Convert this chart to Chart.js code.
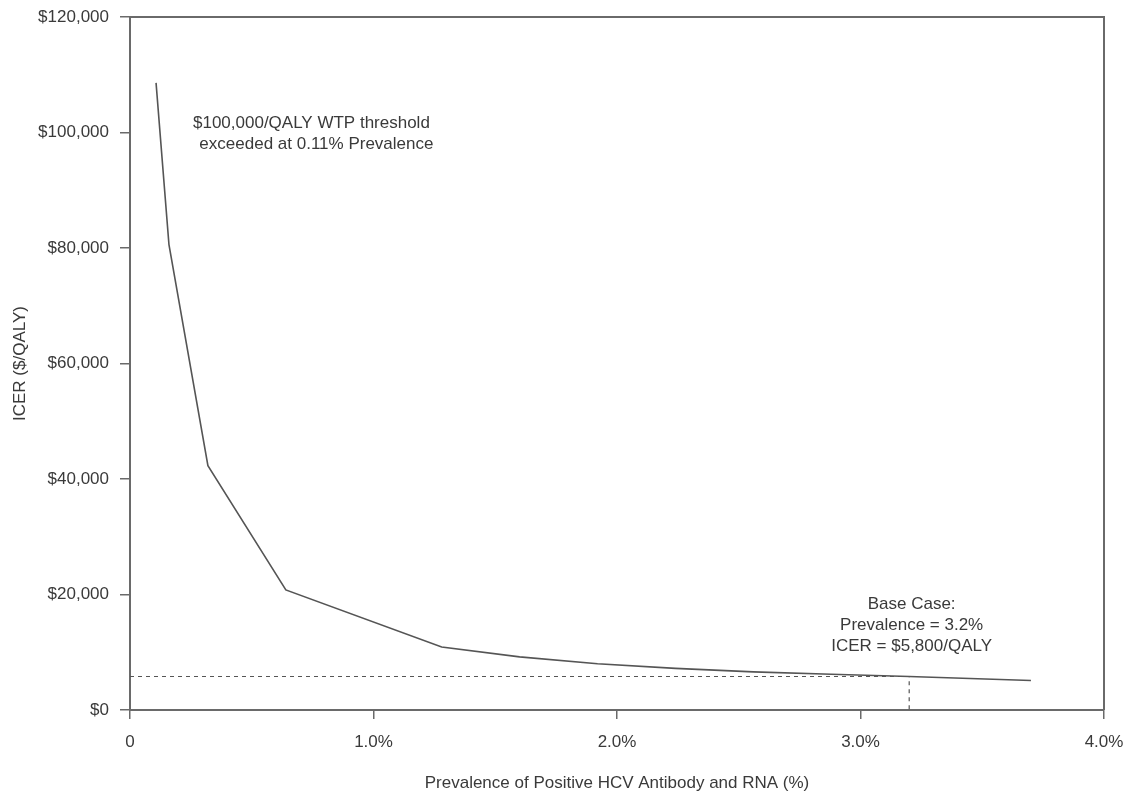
<!DOCTYPE html>
<html><head><meta charset="utf-8">
<script src="https://cdn.jsdelivr.net/npm/chart.js@4.4.1/dist/chart.umd.min.js"></script>
<style>html,body{margin:0;padding:0;background:#fff}#wrap{width:1134px;height:796px}</style>
</head><body><div id="wrap"><canvas id="c" width="1134" height="796"></canvas></div>
<script>
const prevalence = [0.107, 0.16, 0.32, 0.64, 1.28, 1.6, 1.92, 2.24, 2.56, 2.88, 3.2, 3.7];
const icer = [108600, 80600, 42300, 20800, 10900, 9200, 8000, 7200, 6600, 6200, 5800, 5100];
const baseCase = {prev: 3.2, icer: 5800};
const xTicks = [0, 1, 2, 3, 4];
const xTickLabels = ["0", "1.0%", "2.0%", "3.0%", "4.0%"];
const yTicks = [0, 20000, 40000, 60000, 80000, 100000, 120000];
const yTickLabels = ["$0", "$20,000", "$40,000", "$60,000", "$80,000", "$100,000", "$120,000"];
const thresholdNote = ["$100,000/QALY WTP threshold", "exceeded at 0.11% Prevalence"];
const baseNote = ["Base Case:", "Prevalence = 3.2%", "ICER = $5,800/QALY"];
const xTitle = "Prevalence of Positive HCV Antibody and RNA (%)";
const yTitle = "ICER ($/QALY)";

const TXT = '#3a3a3a', AX = '#6a6a6a';
const FONT = {family: '"Liberation Sans", Arial, sans-serif', size: 17};

const curve = prevalence.map((p, i) => ({x: p, y: icer[i]}));
const refLine = [{x: 0, y: baseCase.icer}, {x: baseCase.prev, y: baseCase.icer}, {x: baseCase.prev, y: 0}];

const boxPlugin = {
  id: 'box',
  afterDraw(chart) {
    const {ctx, chartArea: a, scales} = chart;
    ctx.save();
    ctx.strokeStyle = AX; ctx.lineWidth = 2;
    ctx.beginPath();
    ctx.moveTo(a.left, a.top); ctx.lineTo(a.right, a.top); ctx.lineTo(a.right, a.bottom);
    ctx.stroke();
    ctx.fillStyle = TXT;
    ctx.font = '17px "Liberation Sans", Arial, sans-serif';
    ctx.textAlign = 'center'; ctx.textBaseline = 'middle';
    const x1 = scales.x.getPixelForValue(0.745), y1 = scales.y.getPixelForValue(100000);
    ctx.fillText(thresholdNote[0], x1, y1 - 9);
    ctx.fillText(thresholdNote[1], x1 + 5, y1 + 12);
    const x2 = scales.x.getPixelForValue(3.21), y2 = scales.y.getPixelForValue(18300);
    baseNote.forEach((t, i) => ctx.fillText(t, x2, y2 + i * 21));
    ctx.restore();
  }
};

new Chart(document.getElementById('c'), {
  type: 'scatter',
  data: {datasets: [
    {data: curve, showLine: true, borderColor: '#555', borderWidth: 1.6, pointRadius: 0, tension: 0},
    {data: refLine, showLine: true, borderColor: '#555', borderWidth: 1.2, borderDash: [4, 4], pointRadius: 0, tension: 0}
  ]},
  options: {
    responsive: false, animation: false,
    layout: {padding: {top: 17, right: 30, left: 6, bottom: 0}},
    plugins: {legend: {display: false}, tooltip: {enabled: false}},
    scales: {
      x: {
        type: 'linear', min: 0, max: 4,
        afterBuildTicks: s => { s.ticks = xTicks.map(v => ({value: v})); },
        afterFit: s => { s.height = 86; s.paddingRight = 0; s.paddingLeft = 0; },
        ticks: {color: TXT, font: FONT, padding: 13, maxRotation: 0,
          callback: v => xTickLabels[xTicks.indexOf(v)]},
        grid: {drawOnChartArea: false, drawTicks: true, tickLength: 9, color: AX, lineWidth: 1.5},
        border: {display: true, color: AX, width: 2},
        title: {display: true, text: xTitle, color: TXT, font: FONT, padding: {top: 12, bottom: 2}}
      },
      y: {
        type: 'linear', min: 0, max: 120000,
        afterBuildTicks: s => { s.ticks = yTicks.map(v => ({value: v})); },
        afterFit: s => { s.width = 124; s.paddingTop = 0; s.paddingBottom = 0; },
        ticks: {color: TXT, font: FONT, padding: 11,
          callback: v => yTickLabels[yTicks.indexOf(v)]},
        grid: {drawOnChartArea: false, drawTicks: true, tickLength: 10, color: AX, lineWidth: 1.5},
        border: {display: true, color: AX, width: 2},
        title: {display: true, text: yTitle, color: TXT, font: FONT, padding: {bottom: 0}}
      }
    }
  },
  plugins: [boxPlugin]
});
</script></body></html>
